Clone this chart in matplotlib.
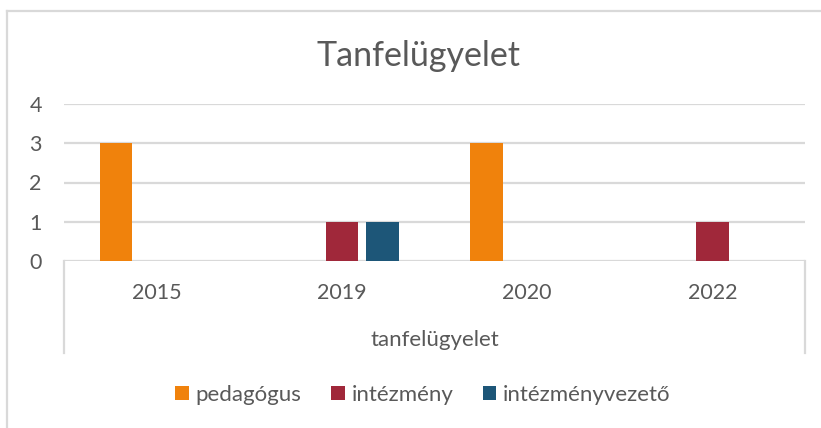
import matplotlib
matplotlib.use('Agg')
import matplotlib.pyplot as plt
from matplotlib.lines import Line2D
from matplotlib.patches import Patch
import numpy as np

plt.rcParams['font.family'] = ['Lato', 'DejaVu Sans']

years = ['2015', '2019', '2020', '2022']
series = ['pedagógus', 'intézmény', 'intézményvezető']
pedagogus = [3, 0, 3, 0]
intezmeny = [0, 1, 0, 1]
intezmenyvezeto = [0, 1, 0, 0]
colors = ['#F0820C', '#A0283A', '#1D5678']
group_label = 'tanfelügyelet'
title = 'Tanfelügyelet'

W, H = 821, 428
fig = plt.figure(figsize=(W / 100, H / 100), dpi=100)
fig.patch.set_facecolor('white')

def fx(px):
    return px / W

def fy(py):
    return 1 - py / H

# plot area
left, right, top, bottom = 64, 805, 104, 261
ax = fig.add_axes([fx(left), fy(bottom), fx(right - left), (bottom - top) / H])
ax.set_xlim(-0.5, 3.5)
ax.set_ylim(0, 4)

x = np.arange(len(years))
width = 0.175
step = 0.219
for i, (vals, c) in enumerate(zip([pedagogus, intezmeny, intezmenyvezeto], colors)):
    ax.bar(x + (i - 1) * step, vals, width, color=c, zorder=3)

grid_c = '#D9D9D9'
text_c = '#595959'
ax.set_yticks([0, 1, 2, 3, 4])
ax.yaxis.grid(True, color=grid_c, linewidth=1.6, zorder=0)
for s in ax.spines.values():
    s.set_visible(False)
ax.tick_params(axis='y', length=0, pad=16, labelsize=15.5, labelcolor=text_c)
ax.set_xticks(x)
ax.set_xticklabels(years)
ax.tick_params(axis='x', length=0, pad=16, labelsize=15.5, labelcolor=text_c)

# multi-level category axis box
depth = (353 - bottom) / (bottom - top) * 4
for xv in (-0.5, 3.5):
    ax.plot([xv, xv], [0, -depth], color=grid_c, linewidth=1.6, clip_on=False)

fig.text(fx(435), fy(340), group_label, ha='center', va='center',
         fontsize=16, color=text_c)

fig.text(fx(418), fy(56), title, ha='center', va='center',
         fontsize=24.5, color=text_c)

handles = [Patch(facecolor=c, edgecolor='none') for c in colors]
fig.legend(handles, series, loc='center', bbox_to_anchor=(fx(423), fy(395)),
           ncol=3, frameon=False, fontsize=16, labelcolor=text_c,
           handlelength=0.6, handleheight=0.6, handletextpad=0.3,
           columnspacing=1.35)

# chart border
fig.add_artist(Line2D([fx(7), fx(7)], [fy(11), 0], color=grid_c, linewidth=1.6))
fig.add_artist(Line2D([fx(7), 1], [fy(11), fy(11)], color=grid_c, linewidth=1.6))

fig.savefig('out.png', dpi=100, facecolor='white')
